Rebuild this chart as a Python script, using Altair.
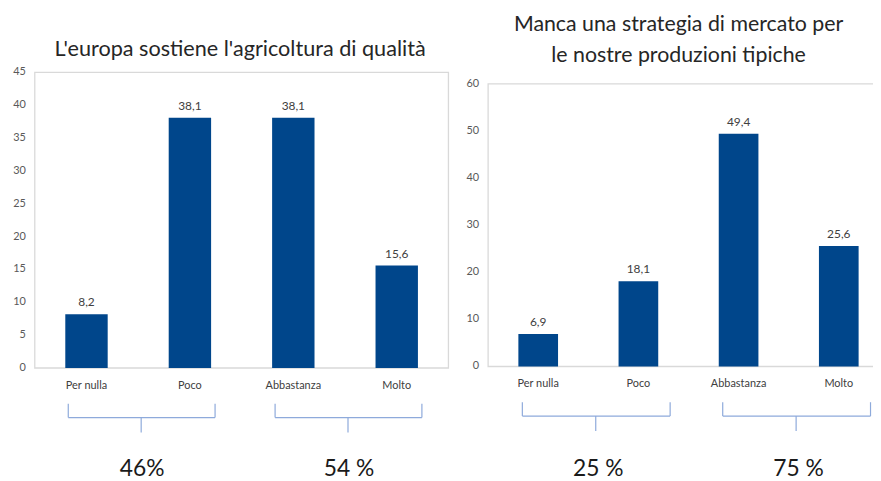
import altair as alt
import pandas as pd

# ---------------- data ----------------
categories = ["Per nulla", "Poco", "Abbastanza", "Molto"]
values_left = [8.2, 38.1, 38.1, 15.6]
values_right = [6.9, 18.1, 49.4, 25.6]
title_left = "L'europa sostiene l'agricoltura di qualità"
title_right = "Manca una strategia di mercato per\nle nostre produzioni tipiche"
group_start = ["Per nulla", "Abbastanza"]
group_end = ["Poco", "Molto"]
pct_left = ["46%", "54 %"]
pct_right = ["25 %", "75 %"]
ticks_left = [0, 5, 10, 15, 20, 25, 30, 35, 40, 45]
ticks_right = [0, 10, 20, 30, 40, 50, 60]

# ---------------- style / layout ----------------
W, H = 872, 472
FONT = "Lato"
BAR = "#00468B"
FRAME = "#D9D9D9"
BRACE = "#8EAADB"
TICK = "#595959"
LABEL = "#404040"


def panel(values, pcts, ticks, x0, x1, ytop, ybot, ymax, pin, pout,
          sh_s, sh_e, sh_m, sh_p):
    df = pd.DataFrame({
        "cat": categories,
        "v": values,
        "lab": [f"{v:.1f}".replace(".", ",") for v in values],
    })
    tdf = pd.DataFrame({"t": ticks})
    xs = alt.Scale(domain=categories, range=[x0, x1],
                   paddingInner=pin, paddingOuter=pout)
    ys = alt.Scale(domain=[0, ymax], range=[ybot, ytop], nice=False)
    step = (x1 - x0) / (len(categories) - pin + 2 * pout)
    half_gap = step * pin / 2

    frame = alt.Chart(pd.DataFrame({"k": [0]})).mark_rect(
        fillOpacity=0, stroke=FRAME, strokeWidth=1.3
    ).encode(x=alt.value(x0), x2=alt.value(x1),
             y=alt.value(ytop), y2=alt.value(ybot))

    bars = alt.Chart(df).mark_bar(color=BAR).encode(
        x=alt.X("cat:N", scale=xs, sort=categories, axis=None),
        y=alt.Y("v:Q", scale=ys, axis=None),
    )

    # y tick labels, placed through the panel's y scale
    ylab = alt.Chart(tdf).mark_text(
        align="right", baseline="middle", font=FONT, fontSize=11,
        color=TICK
    ).encode(y=alt.Y("t:Q", axis=None), x=alt.value(x0 - 9), text="t:Q")

    # category labels, placed through the panel's x scale
    xlab = alt.Chart(df).mark_text(
        baseline="top", font=FONT, fontSize=11, color=LABEL
    ).encode(x=alt.X("cat:N", axis=None), y=alt.value(ybot + 12),
             text="cat:N")

    labels = alt.Chart(df).mark_text(
        baseline="bottom", dy=-5, font=FONT, fontSize=12, color=LABEL
    ).encode(x=alt.X("cat:N", axis=None), y=alt.Y("v:Q", axis=None),
             text="lab:N")

    bdf = pd.DataFrame({"s": group_start, "e": group_end, "pct": pcts})
    base = alt.Chart(bdf)
    rule = dict(color=BRACE, strokeWidth=1.2)
    hline = base.mark_rule(xOffset=sh_s, x2Offset=sh_e, **rule).encode(
        x=alt.X("s:N", bandPosition=0, axis=None),
        x2=alt.X2("e:N", bandPosition=1),
        y=alt.value(ybot + 50),
    )
    lhook = base.mark_rule(xOffset=sh_s, **rule).encode(
        x=alt.X("s:N", bandPosition=0, axis=None),
        y=alt.value(ybot + 36), y2=alt.value(ybot + 50),
    )
    rhook = base.mark_rule(xOffset=sh_e, **rule).encode(
        x=alt.X("e:N", bandPosition=1, axis=None),
        y=alt.value(ybot + 36), y2=alt.value(ybot + 50),
    )
    mtick = base.mark_rule(xOffset=half_gap + sh_m, **rule).encode(
        x=alt.X("s:N", bandPosition=1, axis=None),
        y=alt.value(ybot + 50), y2=alt.value(ybot + 65),
    )
    ptext = base.mark_text(
        baseline="middle", font=FONT, fontSize=23, color="#1A1A1A",
        xOffset=half_gap + sh_p
    ).encode(x=alt.X("s:N", bandPosition=1, axis=None),
             y=alt.value(463), text="pct:N")

    return alt.layer(frame, bars, ylab, xlab, labels,
                     hline, lhook, rhook, mtick, ptext)


left = panel(values_left, pct_left, ticks_left, 27, 444, 63, 361, 45,
             0.59, 0.295, 3, 4, 3, 4)
right = panel(values_right, pct_right, ticks_right, 484, 888, 74.5, 359.5, 60,
              0.604, 0.302, 4, 12, 7.5, 10)

tl = alt.Chart(pd.DataFrame({"t": [title_left]})).mark_text(
    font=FONT, fontSize=21.8, color="#262626", baseline="middle"
).encode(x=alt.value(234), y=alt.value(39), text="t:N")

tr = alt.Chart(pd.DataFrame({"t": [title_right]})).mark_text(
    font=FONT, fontSize=21.5, color="#262626", baseline="middle",
    lineBreak="\n", lineHeight=32
).encode(x=alt.value(676), y=alt.value(15), text="t:N")

chart = alt.layer(left, right, tl, tr).resolve_scale(
    x="independent", y="independent"
).properties(
    width=W, height=H, padding=0,
    autosize=alt.AutoSizeParams(type="none"),
    background="white",
).configure_view(stroke="transparent")

chart.save("out.html", embed_options={"renderer": "svg", "actions": False})
